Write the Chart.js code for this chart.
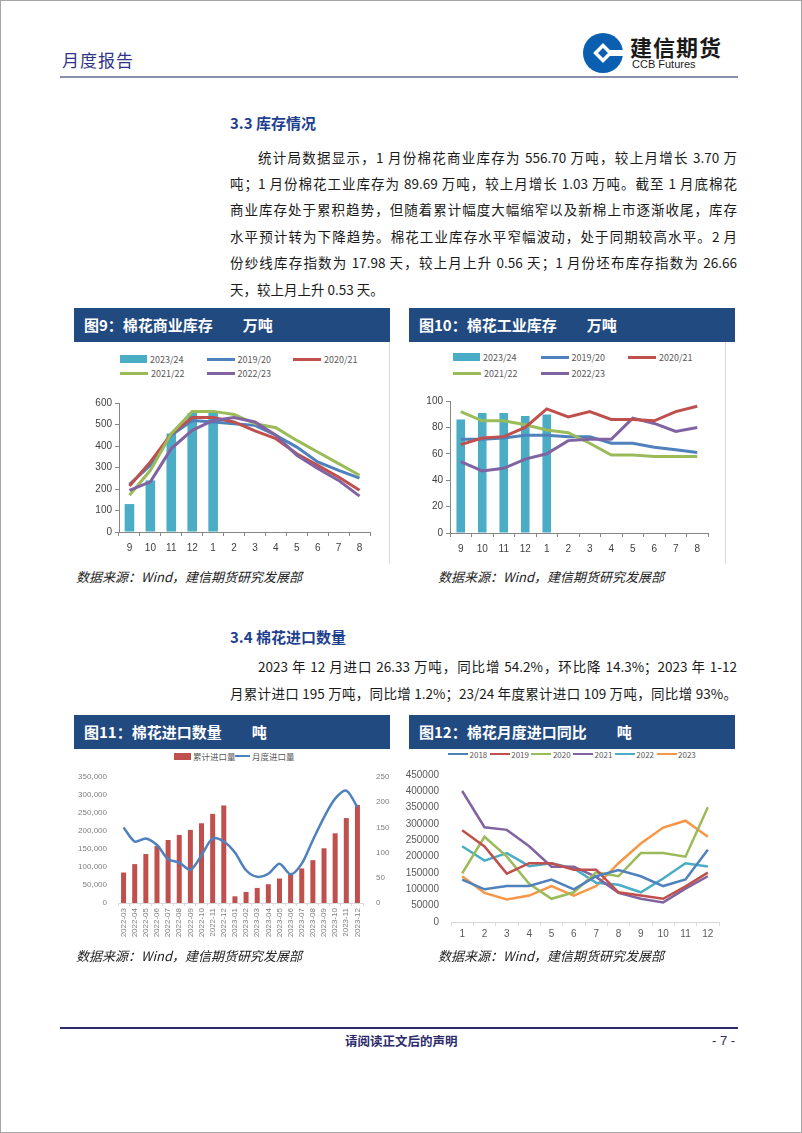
<!DOCTYPE html>
<html>
<head>
<meta charset="utf-8">
<script src="https://cdn.jsdelivr.net/npm/chart.js@4.4.1/dist/chart.umd.min.js"></script>
<style>
body{margin:0;background:#fff;font-family:"Noto Sans CJK SC",sans-serif;color:#1a1a1a}
#frame{position:absolute;left:0;top:0;width:802px;height:1133px;box-sizing:border-box;border:1px solid #a6a6a6}
.abs{position:absolute;white-space:nowrap}
.ln{position:absolute;line-height:20px;font-size:13.5px;text-align:justify;text-align-last:justify}
.h2{position:absolute;font-size:15px;font-weight:bold;color:#1f3f8f;line-height:20px}
.bar{position:absolute;height:34px;background:#214a80;color:#fff;font-size:15px;font-weight:bold;line-height:34px;padding-left:10px;box-sizing:border-box;white-space:pre}
.src{position:absolute;font-size:13px;font-style:italic;color:#222;line-height:18px}
.box{position:absolute;border-right:1px solid #d9d9d9}
canvas{position:absolute}
.lg{position:absolute}
.lg .it{position:absolute;display:flex;align-items:center;color:#595959;white-space:nowrap}
.lg .sw{flex:none}
</style>
</head>
<body>
<div id="frame"></div>

<!-- header -->
<div class="abs" style="left:62px;top:48px;font-size:17px;color:#2e3586;letter-spacing:1px;line-height:24px">月度报告</div>
<svg class="abs" style="left:581px;top:31px" width="44" height="44" viewBox="0 0 44 44">
  <circle cx="22" cy="22" r="20" fill="#0b5fb0"/>
  <rect x="15" y="15" width="14" height="14" fill="#fff" transform="rotate(45 22 22)"/>
  <rect x="26" y="19" width="18" height="6" fill="#fff"/>
  <rect x="18.5" y="18.5" width="7" height="7" fill="#0b5fb0" transform="rotate(45 22 22)"/>
</svg>
<div class="abs" style="left:630px;top:32px;font-size:22px;font-weight:bold;color:#1a1a1a;line-height:28px;letter-spacing:1px">建信期货</div>
<div class="abs" style="left:632px;top:57px;font-size:11px;color:#1a1a1a;font-family:'Liberation Sans',Arial;line-height:14px">CCB Futures</div>
<div class="abs" style="left:60px;top:76px;width:678px;height:2px;background:#8a90aa"></div>

<!-- 3.3 -->
<div class="h2" style="left:230px;top:113px">3.3 库存情况</div>
<div class="ln" style="left:258px;top:147px;width:479px">统计局数据显示，1 月份棉花商业库存为 556.70 万吨，较上月增长 3.70 万</div>
<div class="ln" style="left:230px;top:173px;width:507px">吨；1 月份棉花工业库存为 89.69 万吨，较上月增长 1.03 万吨。截至 1 月底棉花</div>
<div class="ln" style="left:230px;top:199px;width:507px">商业库存处于累积趋势，但随着累计幅度大幅缩窄以及新棉上市逐渐收尾，库存</div>
<div class="ln" style="left:230px;top:226px;width:507px">水平预计转为下降趋势。棉花工业库存水平窄幅波动，处于同期较高水平。2 月</div>
<div class="ln" style="left:230px;top:252px;width:507px">份纱线库存指数为 17.98 天，较上月上升 0.56 天；1 月份坯布库存指数为 26.66</div>
<div class="ln" style="left:230px;top:279px;text-align-last:left">天，较上月上升 0.53 天。</div>

<div class="bar" style="left:74px;top:308px;width:316px">图9：棉花商业库存　　万吨</div>
<div class="bar" style="left:409px;top:308px;width:326px">图10：棉花工业库存　　万吨</div>
<div class="box" style="left:74px;top:342px;width:315px;height:222px"></div>
<div class="box" style="left:409px;top:342px;width:316px;height:222px"></div>
<canvas id="c9" width="310" height="172" style="left:74px;top:390px"></canvas>
<canvas id="c10" width="315" height="172" style="left:405px;top:390px"></canvas>
<div class="lg" id="lg9"></div>
<div class="lg" id="lg10"></div>
<div class="src" style="left:76px;top:568px">数据来源：Wind，建信期货研究发展部</div>
<div class="src" style="left:438px;top:568px">数据来源：Wind，建信期货研究发展部</div>

<!-- 3.4 -->
<div class="h2" style="left:230px;top:627px">3.4 棉花进口数量</div>
<div class="ln" style="left:258px;top:656px;width:479px">2023 年 12 月进口 26.33 万吨，同比增 54.2%，环比降 14.3%；2023 年 1-12</div>
<div class="ln" style="left:230px;top:683px;width:507px">月累计进口 195 万吨，同比增 1.2%；23/24 年度累计进口 109 万吨，同比增 93%。</div>

<div class="bar" style="left:74px;top:715px;width:316px">图11：棉花进口数量　　吨</div>
<div class="bar" style="left:409px;top:715px;width:326px">图12：棉花月度进口同比　　吨</div>
<canvas id="c11" width="320" height="185" style="left:70px;top:765px"></canvas>
<canvas id="c12" width="320" height="180" style="left:405px;top:765px"></canvas>
<div class="lg" id="lg11"></div>
<div class="lg" id="lg12"></div>
<div class="src" style="left:76px;top:947px">数据来源：Wind，建信期货研究发展部</div>
<div class="src" style="left:438px;top:947px">数据来源：Wind，建信期货研究发展部</div>

<!-- footer -->
<div class="abs" style="left:60px;top:1027px;width:678px;height:2px;background:#2c2c6c"></div>
<div class="abs" style="left:345px;top:1032px;font-size:12.5px;color:#2c2c6c;line-height:18px;font-weight:bold">请阅读正文后的声明</div>
<div class="abs" style="left:712px;top:1032px;font-size:13px;color:#2c2c6c;line-height:18px;font-family:'Liberation Sans',Arial">- 7 -</div>

<script>
// ---- data ----
const seasonMonths = ['9','10','11','12','1','2','3','4','5','6','7','8']
const seasonNames = ['2023/24','2019/20','2020/21','2021/22','2022/23']

// fig 9: commercial stock (10k t)
const comm2324 = [130, 240, 458, 553, 556.7]
const comm1920 = [222, 310, 450, 519, 512, 504, 496, 450, 395, 326, 287, 251]
const comm2021 = [214, 326, 457, 532, 532, 512, 470, 434, 364, 310, 256, 194]
const comm2122 = [171, 287, 457, 561, 561, 547, 504, 485, 426, 372, 318, 264]
const comm2223 = [194, 233, 388, 473, 519, 532, 512, 450, 357, 295, 240, 167]

// fig 10: industrial stock (10k t)
const ind2324 = [86, 91, 91, 88.7, 89.7]
const ind1920 = [71, 71, 72, 74, 74, 73, 73, 68, 68, 65, 63, 61]
const ind2021 = [67, 72, 73, 80, 94, 88, 92, 86, 86, 85, 92, 96]
const ind2122 = [92, 85, 85, 82, 78, 76, 68, 59, 59, 58, 58, 58]
const ind2223 = [54, 47, 49, 56, 60, 70, 71, 71, 87, 83, 77, 80]

// fig 11: imports
const impMonths = ['2022-03','2022-04','2022-05','2022-06','2022-07','2022-08','2022-09','2022-10','2022-11','2022-12',
  '2023-01','2023-02','2023-03','2023-04','2023-05','2023-06','2023-07','2023-08','2023-09','2023-10','2023-11','2023-12']
const impCumul = [84700, 108000, 136000, 158000, 175000, 189000, 203000, 221500, 247600, 271000,
  18600, 30700, 41900, 52100, 68000, 82000, 96000, 119000, 152000, 193600, 236000, 272700]
const impMonthly = [150, 122, 128, 115, 87, 80, 66, 95, 128, 122, 100, 65, 52, 58, 78, 57, 78, 125, 170, 207, 223, 190]
const impNames = ['累计进口量', '月度进口量']

// fig 12: monthly imports by year
const calMonths = ['1','2','3','4','5','6','7','8','9','10','11','12']
const yearNames = ['2018','2019','2020','2021','2022','2023']
const y2018 = [130000, 100000, 110000, 110000, 130000, 100000, 140000, 159000, 140000, 110000, 130000, 221000]
const y2019 = [281000, 231000, 148000, 180000, 180000, 160000, 160000, 91000, 81000, 71000, 109000, 151000]
const y2020 = [149000, 261000, 200000, 117000, 71000, 91000, 152000, 140000, 211000, 211000, 200000, 351000]
const y2021 = [401000, 290000, 282000, 232000, 169000, 169000, 138000, 89000, 71000, 60000, 102000, 140000]
const y2022 = [232000, 188000, 211000, 171000, 180000, 164000, 120000, 114000, 91000, 133000, 180000, 170000]
const y2023 = [140000, 89000, 69000, 81000, 110000, 81000, 110000, 180000, 240000, 289000, 310000, 261000]

const BLUE = '#4F81BD', RED = '#C0504D', GREEN = '#9BBB59', PURPLE = '#8064A2', CYAN = '#4BACC6', ORANGE = '#F79646'

Chart.defaults.font.family = '"Liberation Sans", Arial, "Noto Sans CJK SC", sans-serif'
Chart.defaults.animation = false
Chart.defaults.responsive = false
Chart.defaults.plugins.legend.display = false
Chart.defaults.plugins.tooltip.enabled = false

function lineDs(label, data, color, order, width) {
  return { type: 'line', label, data, borderColor: color, backgroundColor: color,
    borderWidth: width || 3, pointRadius: 0, tension: 0, order }
}

// html legend built from the chart datasets
function buildLegend(id, chart, o) {
  const el = document.getElementById(id)
  el.style.left = o.left + 'px'
  el.style.top = o.top + 'px'
  chart.data.datasets.forEach((ds, i) => {
    const col = i % o.cols, row = Math.floor(i / o.cols)
    const it = document.createElement('div')
    it.className = 'it'
    it.style.left = (o.pos ? o.pos[i] : col * o.colW) + 'px'
    it.style.top = (row * o.rowH) + 'px'
    it.style.height = o.rowH + 'px'
    it.style.fontSize = o.font + 'px'
    const sw = document.createElement('span')
    sw.className = 'sw'
    const isBar = (ds.type || chart.config.type) === 'bar'
    sw.style.width = (isBar ? o.barW : o.lineW) + 'px'
    sw.style.height = (isBar ? o.barH : o.lineH) + 'px'
    sw.style.background = isBar ? ds.backgroundColor : ds.borderColor
    sw.style.marginRight = o.gap + 'px'
    it.appendChild(sw)
    const tx = document.createElement('span')
    tx.textContent = ds.label
    it.appendChild(tx)
    el.appendChild(it)
  })
}

function seasonScales(max, step, yw, xh) {
  const axis = '#868686'
  return {
    x: {
      border: { display: true, color: axis },
      grid: { display: true, drawOnChartArea: false, drawTicks: true, tickLength: 4, color: axis },
      ticks: { color: '#404040', font: { size: 10 }, padding: 6, maxRotation: 0, autoSkip: false },
      afterFit: s => { s.height = xh }
    },
    y: {
      min: 0, max,
      border: { display: true, color: axis },
      grid: { display: true, drawOnChartArea: false, drawTicks: true, tickLength: 4, color: axis },
      ticks: { stepSize: step, color: '#404040', font: { size: 10 }, padding: 3 },
      afterFit: s => { s.width = yw }
    }
  }
}

// ---- fig 9 ----
const c9 = new Chart(document.getElementById('c9'), {
  type: 'bar',
  data: {
    labels: seasonMonths,
    datasets: [
      { type: 'bar', label: seasonNames[0], data: comm2324, backgroundColor: CYAN, borderWidth: 0,
        barPercentage: 0.46, categoryPercentage: 1, order: 10 },
      lineDs(seasonNames[1], comm1920, BLUE, 4),
      lineDs(seasonNames[2], comm2021, RED, 3),
      lineDs(seasonNames[3], comm2122, GREEN, 2),
      lineDs(seasonNames[4], comm2223, PURPLE, 1)
    ]
  },
  options: {
    layout: { padding: { top: 13, right: 14, left: 0, bottom: 0 } },
    scales: seasonScales(600, 100, 45, 30)
  }
})
buildLegend('lg9', c9, { left: 120, top: 352, cols: 3, colW: 86.5, rowH: 14, font: 9,
  barW: 27, barH: 8, lineW: 28, lineH: 3, gap: 3 })

// ---- fig 10 ----
const c10 = new Chart(document.getElementById('c10'), {
  type: 'bar',
  data: {
    labels: seasonMonths,
    datasets: [
      { type: 'bar', label: seasonNames[0], data: ind2324, backgroundColor: CYAN, borderWidth: 0,
        barPercentage: 0.4, categoryPercentage: 1, order: 10 },
      lineDs(seasonNames[1], ind1920, BLUE, 4),
      lineDs(seasonNames[2], ind2021, RED, 1),
      lineDs(seasonNames[3], ind2122, GREEN, 3),
      lineDs(seasonNames[4], ind2223, PURPLE, 2)
    ]
  },
  options: {
    layout: { padding: { top: 11, right: 12, left: 0, bottom: 0 } },
    scales: seasonScales(100, 20, 45, 29)
  }
})
buildLegend('lg10', c10, { left: 453, top: 349, cols: 3, colW: 87.5, rowH: 16, font: 9,
  barW: 27, barH: 8, lineW: 28, lineH: 3, gap: 3 })

// ---- fig 11 ----
const c11 = new Chart(document.getElementById('c11'), {
  type: 'bar',
  data: {
    labels: impMonths,
    datasets: [
      { type: 'bar', label: impNames[0], data: impCumul, backgroundColor: RED, borderWidth: 0,
        barPercentage: 0.45, categoryPercentage: 1, yAxisID: 'y', order: 2 },
      { type: 'line', label: impNames[1], data: impMonthly, borderColor: BLUE, backgroundColor: BLUE,
        borderWidth: 2.5, pointRadius: 0, tension: 0.3, yAxisID: 'y1', order: 1 }
    ]
  },
  options: {
    layout: { padding: { top: 12, right: 0, left: 0, bottom: 0 } },
    scales: {
      x: {
        border: { display: true, color: '#d9d9d9' },
        grid: { display: true, drawOnChartArea: false, drawTicks: true, tickLength: 3, color: '#d9d9d9' },
        ticks: { color: '#7f7f7f', font: { size: 8 }, padding: 2, minRotation: 90, maxRotation: 90, autoSkip: false },
        afterFit: s => { s.height = 47 }
      },
      y: {
        position: 'left', min: 0, max: 350000,
        border: { display: false }, grid: { display: false },
        ticks: { stepSize: 50000, color: '#7f7f7f', font: { size: 8 }, padding: 3,
          callback: v => v.toLocaleString('en-US') },
        afterFit: s => { s.width = 48 }
      },
      y1: {
        position: 'right', min: 0, max: 250,
        border: { display: false }, grid: { display: false },
        ticks: { stepSize: 50, color: '#7f7f7f', font: { size: 8 }, padding: 5 },
        afterFit: s => { s.width = 27 }
      }
    }
  }
})
buildLegend('lg11', c11, { left: 174, top: 749, cols: 2, pos: [0, 61], rowH: 14, font: 8.5,
  barW: 17, barH: 7, lineW: 15, lineH: 2.5, gap: 2 })

// ---- fig 12 ----
const yearColors = [BLUE, RED, GREEN, PURPLE, CYAN, ORANGE]
const yearData = [y2018, y2019, y2020, y2021, y2022, y2023]
const c12 = new Chart(document.getElementById('c12'), {
  type: 'line',
  data: {
    labels: calMonths,
    datasets: yearNames.map((n, i) => ({ label: n, data: yearData[i], borderColor: yearColors[i],
      backgroundColor: yearColors[i], borderWidth: 2.5, pointRadius: 0, tension: 0 }))
  },
  options: {
    layout: { padding: { top: 10, right: 6, left: 0, bottom: 0 } },
    scales: {
      x: {
        offset: true,
        border: { display: true, color: '#d9d9d9' },
        grid: { display: true, offset: true, drawOnChartArea: false, drawTicks: true, tickLength: 4, color: '#d9d9d9' },
        ticks: { color: '#595959', font: { size: 10 }, padding: 2, maxRotation: 0, autoSkip: false },
        afterFit: s => { s.height = 23 }
      },
      y: {
        min: 0, max: 450000,
        border: { display: false }, grid: { display: false },
        ticks: { stepSize: 50000, color: '#595959', font: { size: 10 }, padding: 4,
          callback: v => String(v) },
        afterFit: s => { s.width = 46 }
      }
    }
  }
})
buildLegend('lg12', c12, { left: 448, top: 747, cols: 6, colW: 41.7, rowH: 14, font: 8,
  barW: 20, barH: 7, lineW: 20, lineH: 2.5, gap: 1.5 })
</script>
</body>
</html>
